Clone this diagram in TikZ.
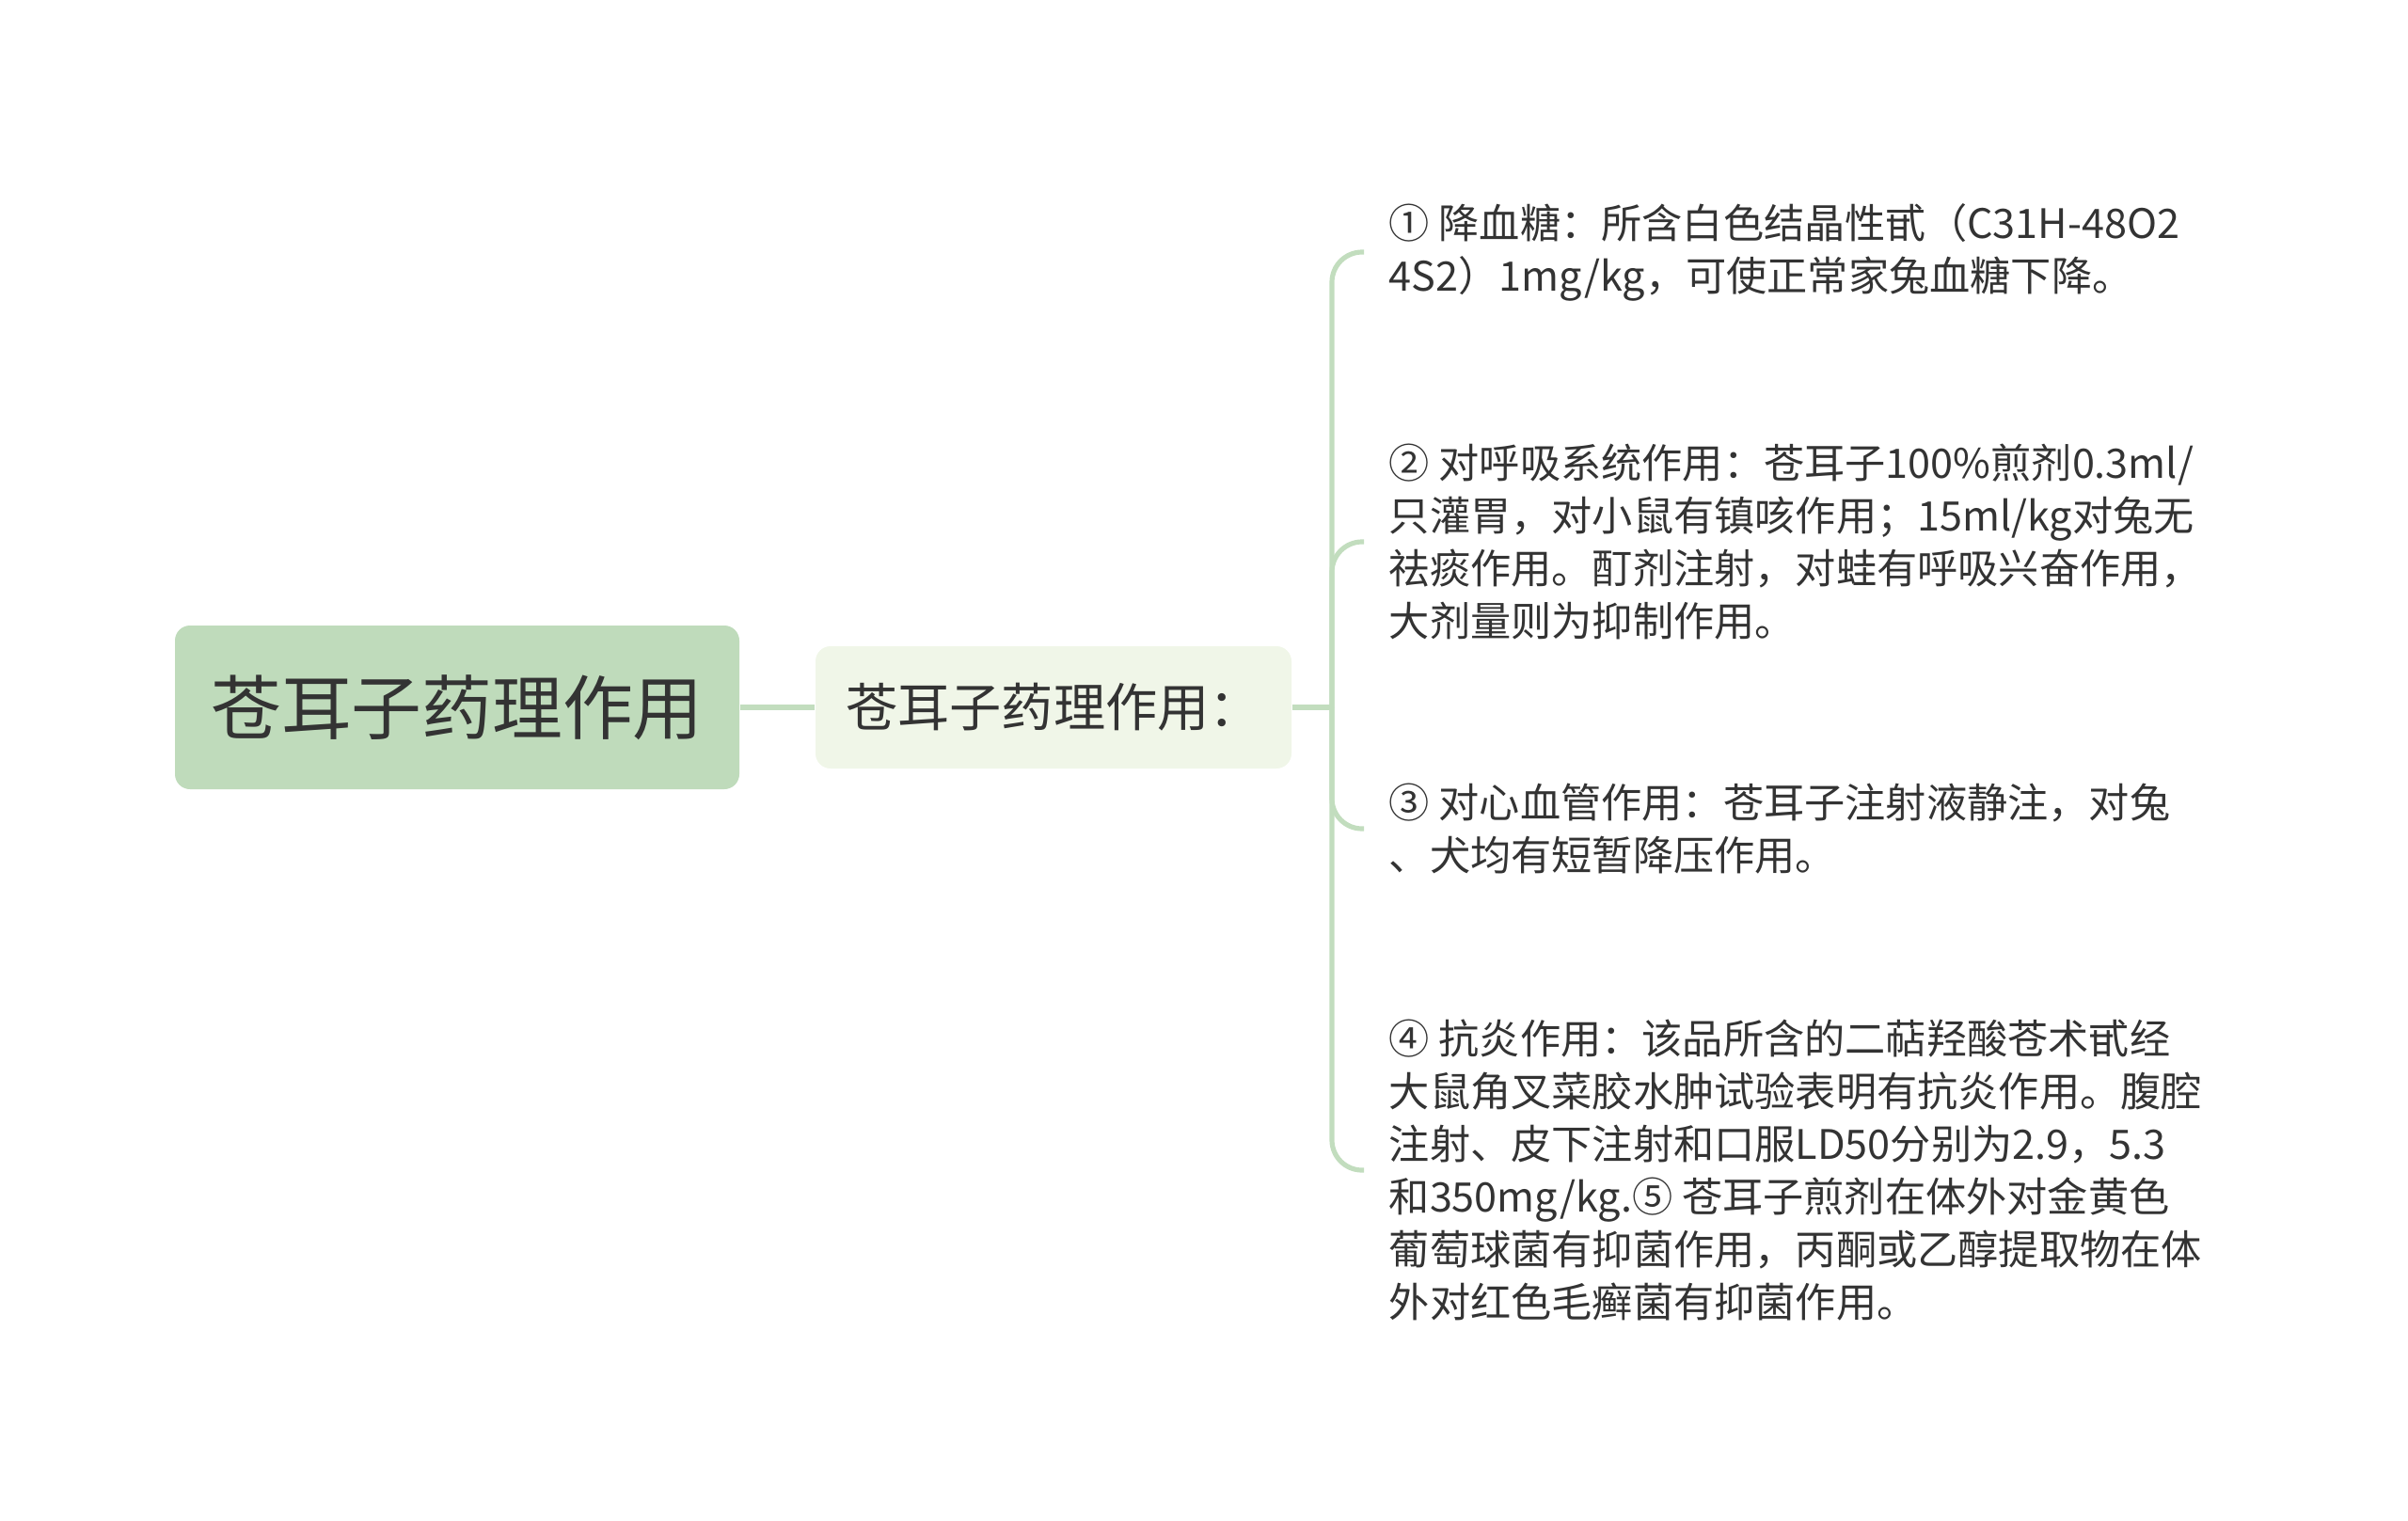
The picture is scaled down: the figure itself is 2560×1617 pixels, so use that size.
\documentclass[tikz,border=0pt]{standalone}
\usepackage{fontspec}
\setmainfont{Noto Sans CJK SC}
\definecolor{rootgreen}{HTML}{BFDBBB}
\definecolor{subgreen}{HTML}{F0F6E8}
\definecolor{linegreen}{HTML}{C2DDBE}
\definecolor{txtgray}{HTML}{333333}
\tikzset{
  rootbox/.style={fill=rootgreen,rounded corners=4pt,minimum width=150pt,minimum height=43.5pt,
    text=txtgray,font=\fontsize{18.7pt}{22pt}\selectfont},
  subbox/.style={fill=subgreen,rounded corners=4pt,minimum width=126.5pt,minimum height=32.5pt,
    text=txtgray,font=\fontsize{13.8pt}{17pt}\selectfont},
  leaftext/.style={anchor=west,align=left,inner xsep=6.5pt,inner ysep=0pt,text=txtgray,
    font=\fontsize{10.8pt}{14pt}\selectfont},
  branch/.style={draw=linegreen,line width=1.3pt,rounded corners=8pt}
}

\begin{document}
\begin{tikzpicture}[x=0.25pt,y=-0.25pt]
            \useasboundingbox (0,0) rectangle (2560,1617);

            \node[rootbox] (root) at (486,752) {苍耳子药理作用};
            \node[subbox] (sub) at (1120,752) {苍耳子药理作用：};
            \coordinate (spine) at (1416,752);

            \node[leaftext] (leaf1) at (1450,268) {① 降血糖：所含白色结晶性甙（C31H-48O2\\4S2）1mg/kg，可使正常家兔血糖下降。};
            \node[leaftext] (leaf2) at (1450,576) {② 对呼吸系统作用：苍耳子100\%煎剂0.3ml/\\只灌胃，对小鼠有镇咳作用；15ml/kg对兔无\\祛痰作用。酊剂注射，对蛙有呼吸兴奋作用，\\大剂量则为抑制作用。};
            \node[leaftext] (leaf3) at (1450,881) {③ 对心血管作用：苍耳子注射液静注，对兔\\、犬均有短暂降压作用。};
            \node[leaftext] (leaf4) at (1450,1244) {④ 抗炎作用：该品所含的二萜羟酸苍术甙经\\大鼠角叉菜胶水肿试验表明有抗炎作用。腹腔\\注射、皮下注射和口服LD50分别为2.9，5.3\\和350mg/kg.⑤ 苍耳子煎剂在体外对金黄色\\葡萄球菌有抑菌作用，丙酮或乙醇提取物在体\\外对红色毛癣菌有抑菌作用。};

            \draw[branch] (root.east) -- (sub.west);
            \draw[branch] (sub.east) -- (spine);
            \foreach \i in {1,2,3,4}
                \draw[branch] (spine) |- (leaf\i.west);
        \end{tikzpicture}
\end{document}
